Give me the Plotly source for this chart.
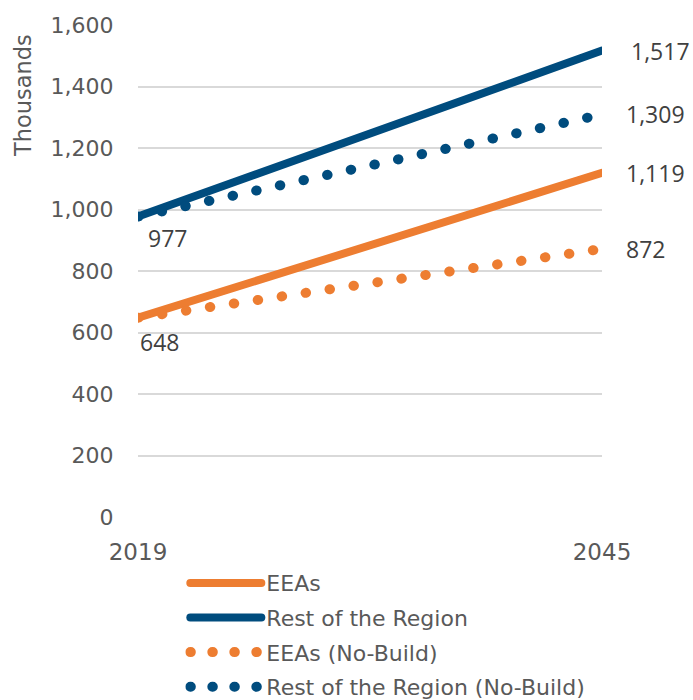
import plotly.graph_objects as go

years = [2019, 2045]
eeas = [648, 1119]
rest = [977, 1517]
eeas_nb = [648, 872]
rest_nb = [977, 1309]
y_ticks = [0, 200, 400, 600, 800, 1000, 1200, 1400, 1600]
y_ticktext = ["0", "200", "400", "600", "800", "1,000", "1,200", "1,400", "1,600"]

ORANGE = "#ED7D31"
BLUE = "#004C7E"
FONT = "DejaVu Sans"

fig = go.Figure()
fig.add_trace(go.Scatter(x=years, y=eeas, mode="lines", name="EEAs",
                         line=dict(color=ORANGE, width=8), cliponaxis=False, legendgroup="a"))
fig.add_trace(go.Scatter(x=years, y=rest, mode="lines", name="Rest of the Region",
                         line=dict(color=BLUE, width=8), cliponaxis=False, legendgroup="b"))
fig.add_trace(go.Scatter(x=years, y=eeas_nb, mode="lines", name="EEAs (No-Build)",
                         line=dict(color=ORANGE, width=10, dash="0.5px,23.7px"), cliponaxis=False, legendgroup="c"))
fig.add_trace(go.Scatter(x=years, y=rest_nb, mode="lines", name="Rest of the Region (No-Build)",
                         line=dict(color=BLUE, width=10, dash="0.5px,23.7px"), cliponaxis=False, legendgroup="d"))

lab_font = dict(family="Open Sans", size=23, color="#404040")
ann = []
for series, xs in ((rest, 27), (rest_nb, 22), (eeas, 22), (eeas_nb, 22)):
    ann.append(dict(x=years[-1], y=series[-1], xref="x", yref="y", text=f"{series[-1]:,}",
                    showarrow=False, xanchor="left", yanchor="middle", xshift=xs, font=lab_font))
ann.append(dict(x=years[0], y=rest[0], xref="x", yref="y", text=f"{rest[0]:,}",
                showarrow=False, xanchor="left", yanchor="middle", xshift=8, yshift=-21, font=lab_font))
ann.append(dict(x=years[0], y=eeas[0], xref="x", yref="y", text=f"{eeas[0]:,}",
                showarrow=False, xanchor="left", yanchor="middle", xshift=0, yshift=-24, font=lab_font))
ann.append(dict(x=-0.2478, y=0.8557, xref="paper", yref="paper", text="Thousands", textangle=-90,
                showarrow=False, xanchor="center", yanchor="middle",
                font=dict(family=FONT, size=22.5, color="#595959")))

fig.update_layout(
    width=693, height=700,
    margin=dict(l=138, r=91, t=25, b=183, autoexpand=False),
    paper_bgcolor="white", plot_bgcolor="white",
    font=dict(family=FONT, size=22, color="#595959"),
    showlegend=True,
    legend=dict(x=0.102, xref="paper", y=0.197, yref="container", xanchor="left", yanchor="top",
                orientation="v", font=dict(family=FONT, size=22, color="#595959"),
                itemwidth=71, tracegroupgap=3, traceorder="grouped", bgcolor="rgba(0,0,0,0)"),
    annotations=ann,
    xaxis=dict(range=[years[0], years[-1]], tickvals=years, ticktext=[str(y) for y in years],
               showgrid=False, zeroline=False, showline=False, ticks="outside", ticklen=14,
               automargin=False,
               tickcolor="rgba(0,0,0,0)", tickfont=dict(family=FONT, size=23, color="#595959")),
    yaxis=dict(range=[0, 1600], tickvals=y_ticks, ticktext=y_ticktext, showgrid=True,
               gridcolor="#D9D9D9", gridwidth=1.5, zeroline=False, showline=False,
               ticks="outside", ticklen=19, tickcolor="rgba(0,0,0,0)", automargin=False,
               tickfont=dict(family=FONT, size=22, color="#595959")),
)

post = """
document.body.style.margin = '0';
document.body.style.overflow = 'hidden';
var gd = document.getElementById('{plot_id}');
function fixCaps(){
  document.querySelectorAll('path.js-line, .legendlines path').forEach(function(p){
    p.style.strokeLinecap = 'round';
  });
  document.querySelectorAll('.legendlines path').forEach(function(p){
    var d = p.style.strokeDasharray;
    if (d && d !== 'none' && d !== '') p.style.strokeDasharray = '0.5px, 21.5px';
  });
}
fixCaps();
setTimeout(fixCaps, 50);
if (gd && gd.on) gd.on('plotly_afterplot', fixCaps);
"""
fig.write_html("out.html", post_script=post, config={"displayModeBar": False})
